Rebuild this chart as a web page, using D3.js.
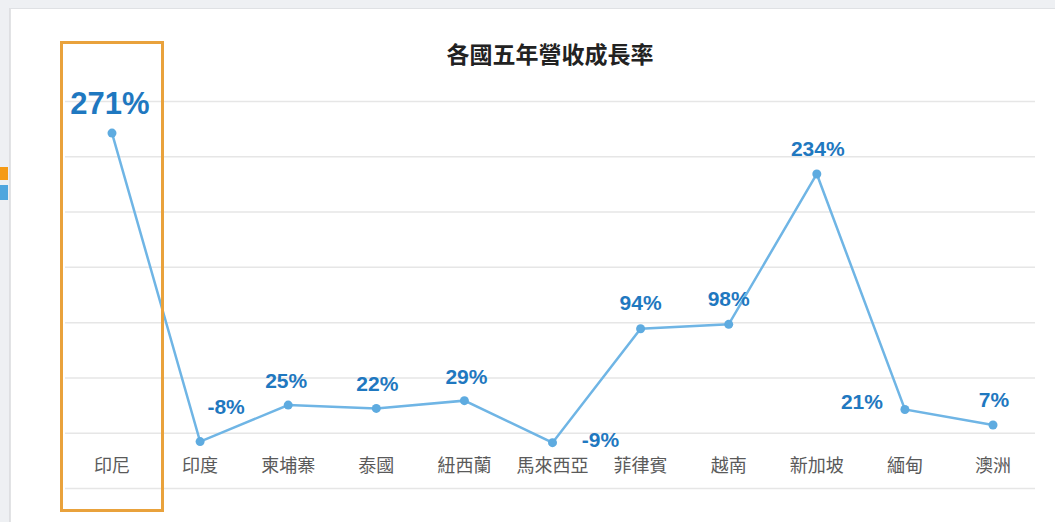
<!DOCTYPE html>
<html>
<head>
<meta charset="utf-8">
<script src="https://cdn.jsdelivr.net/npm/d3@7"></script>
<style>
  html, body { margin: 0; padding: 0; background: #eef0f3; }
  svg { display: block; }
</style>
</head>
<body>
<svg id="myChart" width="1055" height="522"></svg>
<script>
// data
const categories = ["印尼", "印度", "柬埔寨", "泰國", "紐西蘭", "馬來西亞", "菲律賓", "越南", "新加坡", "緬甸", "澳洲"];
const growth = [271, -8, 25, 22, 29, -9, 94, 98, 234, 21, 7];
const chartTitle = "各國五年營收成長率";

// where each value label sits relative to its point
const labelDx = [-2, 26, -2, 1, 2, 48, 0, 0, 1, -43, 1];
const labelDy = [-19, -28, -17, -17, -17, 4, -19, -18, -18, 0, -18];

let svg = d3.select("#myChart"),
    width = +svg.attr("width"),
    height = +svg.attr("height");

// page frame
svg.append("rect").attr("x", 10).attr("y", 8).attr("width", width - 10).attr("height", height - 8)
    .attr("fill", "#fff");
svg.append("line").attr("x1", 10).attr("x2", 10).attr("y1", 8).attr("y2", height)
    .attr("stroke", "#d8dadd").attr("stroke-width", 1.5);
svg.append("line").attr("x1", 10).attr("x2", width).attr("y1", 8.5).attr("y2", 8.5)
    .attr("stroke", "#dfe1e4").attr("stroke-width", 1);
svg.append("rect").attr("x", 0).attr("y", 167).attr("width", 8).attr("height", 13).attr("fill", "#f59b16");
svg.append("rect").attr("x", 0).attr("y", 185).attr("width", 8).attr("height", 15).attr("fill", "#4fa6de");

let x = d3.scalePoint().domain(categories).range([112, 993]);
let y = d3.scaleLinear().domain([-50, 300]).range([488, 101]);

// grid
svg.append("g")
    .attr("transform", "translate(1035,0)")
    .call(d3.axisLeft(y).tickValues(d3.range(-50, 301, 50)).tickSize(1035 - 65).tickFormat(""))
    .call(g => g.select(".domain").remove())
    .call(g => g.selectAll(".tick line").attr("stroke", "#e6e6e6").attr("stroke-width", 1.5));

// title
svg.append("text")
    .attr("x", 550).attr("y", 63)
    .attr("text-anchor", "middle")
    .style("font-family", "'Noto Sans CJK TC', sans-serif")
    .style("font-size", "23px").style("font-weight", "bold")
    .style("fill", "#222")
    .text(chartTitle);

// category labels
svg.append("g").selectAll("text")
    .data(categories)
    .enter().append("text")
    .attr("x", d => x(d)).attr("y", 472)
    .attr("text-anchor", "middle")
    .style("font-family", "'Noto Sans CJK TC', sans-serif")
    .style("font-size", "18px")
    .style("fill", "#5a5a5a")
    .text(d => d);

// line + points
let line = d3.line()
    .x((d, i) => x(categories[i]))
    .y(d => y(d));

svg.append("path")
    .datum(growth)
    .attr("d", line)
    .attr("fill", "none")
    .attr("stroke", "#6fb5e5")
    .attr("stroke-width", 2.5);

svg.append("g").selectAll("circle")
    .data(growth)
    .enter().append("circle")
    .attr("cx", (d, i) => x(categories[i]))
    .attr("cy", d => y(d))
    .attr("r", 4.5)
    .attr("fill", "#5eabe0");

// value labels
svg.append("g").selectAll("text")
    .data(growth)
    .enter().append("text")
    .attr("x", (d, i) => x(categories[i]) + labelDx[i])
    .attr("y", (d, i) => y(d) + labelDy[i])
    .attr("text-anchor", "middle")
    .style("font-family", "'Liberation Sans', Arial, sans-serif")
    .style("font-weight", "bold")
    .style("font-size", (d, i) => i === 0 ? "31px" : "21px")
    .style("fill", "#1f78c0")
    .text(d => d + "%");

// highlight box
svg.append("rect")
    .attr("x", x(categories[0]) - 50.5)
    .attr("y", 42.5)
    .attr("width", 101)
    .attr("height", 468)
    .attr("fill", "none")
    .attr("stroke", "#e9a23c")
    .attr("stroke-width", 3);
</script>
</body>
</html>
